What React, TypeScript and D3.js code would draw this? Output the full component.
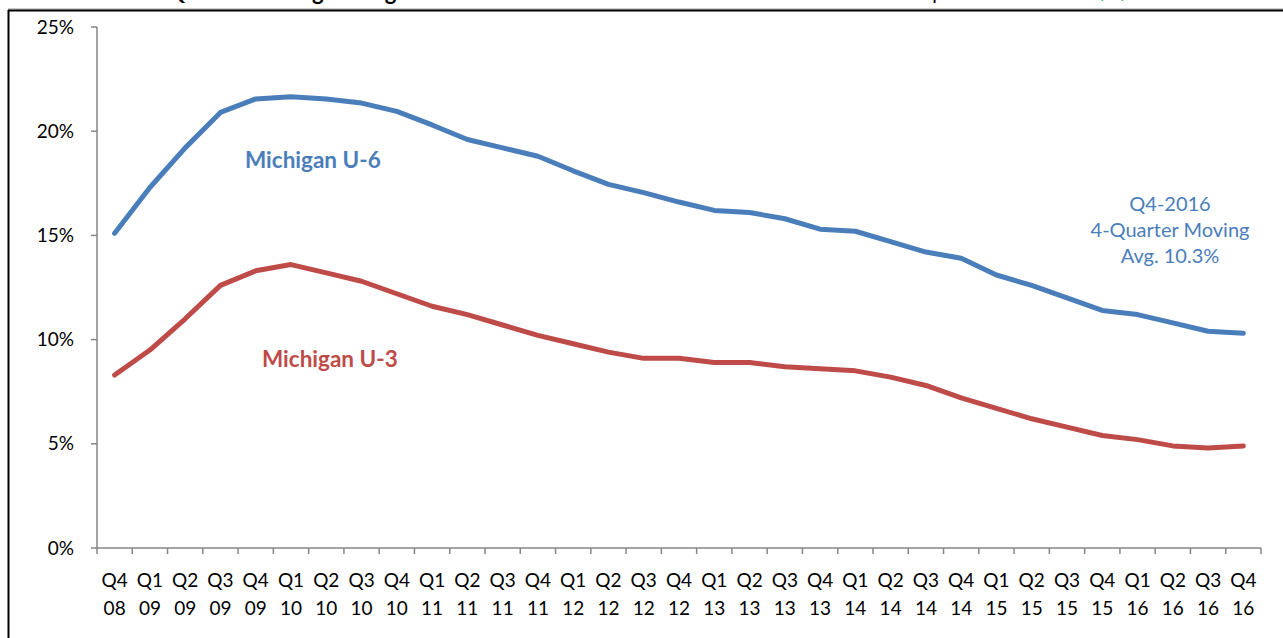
import React from 'react';
import * as d3 from 'd3';

const quarters = ['Q4', 'Q1', 'Q2', 'Q3', 'Q4', 'Q1', 'Q2', 'Q3', 'Q4', 'Q1', 'Q2', 'Q3', 'Q4', 'Q1', 'Q2', 'Q3', 'Q4',
  'Q1', 'Q2', 'Q3', 'Q4', 'Q1', 'Q2', 'Q3', 'Q4', 'Q1', 'Q2', 'Q3', 'Q4', 'Q1', 'Q2', 'Q3', 'Q4'];
const years = ['08', '09', '09', '09', '09', '10', '10', '10', '10', '11', '11', '11', '11', '12', '12', '12', '12',
  '13', '13', '13', '13', '14', '14', '14', '14', '15', '15', '15', '15', '16', '16', '16', '16'];

const u6 = [15.1, 17.3, 19.2, 20.9, 21.55, 21.65, 21.55, 21.35, 20.95, 20.3, 19.6, 19.2, 18.8, 18.1, 17.45, 17.05, 16.6,
  16.2, 16.1, 15.8, 15.3, 15.2, 14.7, 14.2, 13.9, 13.1, 12.6, 12.0, 11.4, 11.2, 10.8, 10.4, 10.3];
const u3 = [8.3, 9.5, 11.0, 12.6, 13.3, 13.6, 13.2, 12.8, 12.2, 11.6, 11.2, 10.7, 10.2, 9.8, 9.4, 9.1, 9.1,
  8.9, 8.9, 8.7, 8.6, 8.5, 8.2, 7.8, 7.2, 6.7, 6.2, 5.8, 5.4, 5.2, 4.9, 4.8, 4.9];
const yTicks = [0, 5, 10, 15, 20, 25];

const BLUE = '#4a7ebb';
const RED = '#be4b48';
const FONT = 'Lato, "Open Sans", sans-serif';

export default function App() {
  const W = 1283, H = 638;
  const left = 97, right = 1261, top = 27, bottom = 548;

  const idx = quarters.map((_, i) => i);
  const x = d3.scaleBand<number>().domain(idx).range([left, right]);
  const y = d3.scaleLinear().domain([0, 25]).range([bottom, top]);
  const cx = (i: number) => (x(i) || 0) + x.bandwidth() / 2;

  const line = d3.line<number>().x((_, i) => cx(i)).y(d => y(d));

  const tickXs = d3.range(quarters.length + 1).map(i => left + i * x.bandwidth());

  return (
    <svg width={W} height={H} style={{ position: 'absolute', left: 0, top: 0, background: '#fff' }}
      fontFamily={FONT}>
      {/* title strip, cut off by the top edge as in the source */}
      <text x={30} y={0} fontSize={22} fontWeight="bold" fill="#000">U-6 vs. U-3 4-Quarter Moving Average</text>
      <text x={880} y={0} fontSize={20} fill="#000">Last update:</text>
      <text x={1090} y={0} fontSize={20} fill="#00b050" fontStyle="italic">2/7/17</text>

      {/* frame */}
      <line x1={8} x2={W} y1={9} y2={9} stroke="#999" strokeWidth={1} />
      <line x1={8} x2={W} y1={10.5} y2={10.5} stroke="#000" strokeWidth={2} />
      <line x1={8.5} x2={8.5} y1={10} y2={H} stroke="#000" strokeWidth={2} />

      {/* y axis */}
      <line x1={left} x2={left} y1={top} y2={bottom} stroke="#868686" strokeWidth={1.5} />
      {yTicks.map(t => (
        <g key={t}>
          <line x1={left - 6} x2={left} y1={y(t)} y2={y(t)} stroke="#868686" strokeWidth={1.5} />
          <text x={74} y={y(t)} dy="0.35em" textAnchor="end" fontSize={19} fill="#000">{t}%</text>
        </g>
      ))}

      {/* x axis */}
      <line x1={left} x2={right} y1={bottom} y2={bottom} stroke="#868686" strokeWidth={1.5} />
      {tickXs.map((tx, i) => (
        <line key={i} x1={tx} x2={tx} y1={bottom} y2={bottom + 6} stroke="#868686" strokeWidth={1.5} />
      ))}
      {idx.map(i => (
        <g key={i}>
          <text x={cx(i)} y={587} textAnchor="middle" fontSize={19} fill="#000">{quarters[i]}</text>
          <text x={cx(i)} y={615} textAnchor="middle" fontSize={19} fill="#000">{years[i]}</text>
        </g>
      ))}

      {/* series */}
      <path d={line(u6) || ''} fill="none" stroke={BLUE} strokeWidth={5} strokeLinejoin="round" strokeLinecap="round" />
      <path d={line(u3) || ''} fill="none" stroke={RED} strokeWidth={5} strokeLinejoin="round" strokeLinecap="round" />

      {/* labels */}
      <text x={245} y={168} fontSize={22.5} fontWeight="bold" fill={BLUE}>Michigan U-6</text>
      <text x={262} y={367} fontSize={22.5} fontWeight="bold" fill={RED}>Michigan U-3</text>
      <g fontSize={20} fill={BLUE} textAnchor="middle">
        <text x={1170} y={211}>Q4-2016</text>
        <text x={1170} y={237}>4-Quarter Moving</text>
        <text x={1170} y={263}>Avg. 10.3%</text>
      </g>
    </svg>
  );
}
